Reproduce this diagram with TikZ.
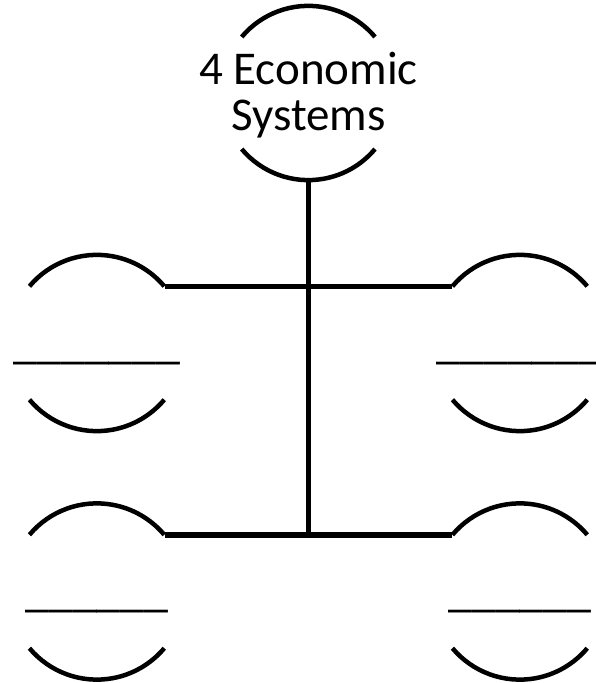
\documentclass[tikz,border=0pt]{standalone}
\usepackage{fontspec}
\setmainfont{Carlito}
\begin{document}
\begin{tikzpicture}[x=1pt,y=1pt,
  ring/.style={circle,draw=none,minimum size=176pt,inner sep=0pt},
  arcline/.style={line width=4.5pt},
  link/.style={line width=5.5pt},
  blank/.style={inner sep=0pt,anchor=base,font=\fontsize{48}{48}\selectfont},
  title/.style={inner sep=0pt,align=center,font=\fontsize{47}{46}\selectfont}]
\useasboundingbox (0,0) rectangle (596,683);
% circles (invisible nodes) 
\node[ring,minimum size=174pt] (top) at (308.5,590) {};
\node[ring] (ul) at (97,340) {};
\node[ring] (ur) at (520,340) {};
\node[ring] (ll) at (97,91.5) {};
\node[ring] (lr) at (520,91.5) {};
% arcs
\draw[arcline] (top.140) arc[start angle=140,end angle=40,radius=87pt];
\draw[arcline] (top.220) arc[start angle=220,end angle=320,radius=87pt];
\foreach \n in {ul,ur,ll,lr}{
  \draw[arcline] (\n.140) arc[start angle=140,end angle=40,radius=88pt];
  \draw[arcline] (\n.220) arc[start angle=220,end angle=320,radius=88pt];
}
% title
\node[title] (t) at (308.5,588) {4 Economic\\Systems};
% connectors
\coordinate (j) at (top.south |- ll.40);
\draw[link] (ul.40) -- (ur.140);
\draw[link] (ll.40) -- (lr.140);
\draw[link] (top.south) -- (j);
% blanks
\node[blank] (bul) at (97,324) {\_\_\_\_\_\_\_};
\node[blank] (bur) at (520,324) {\_\_\_\_\_\_\_};
\node[blank] (bll) at (97,76) {\_\_\_\_\_\_};
\node[blank] (blr) at (520,76) {\_\_\_\_\_\_};
\end{tikzpicture}
\end{document}
